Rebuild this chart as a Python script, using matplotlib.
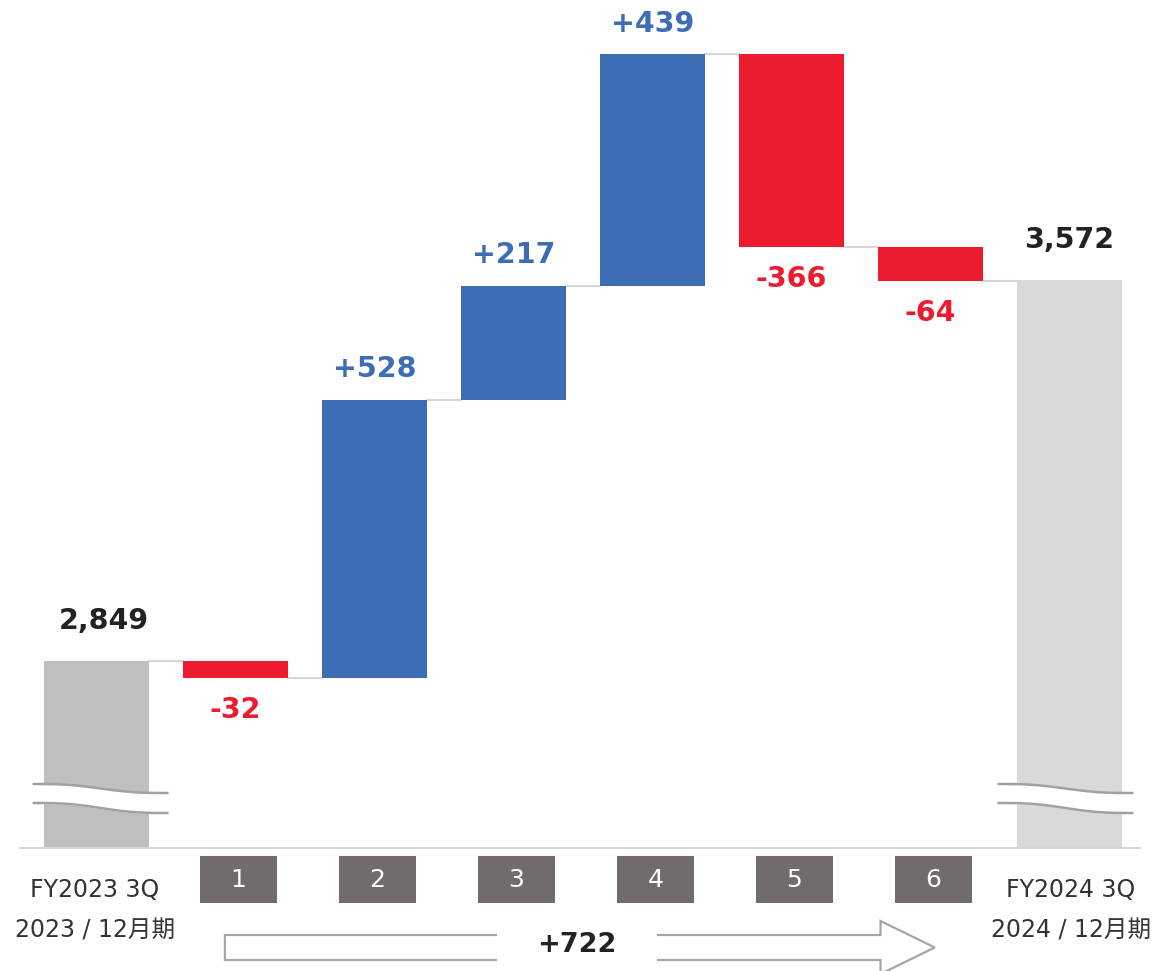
import numpy as np
import matplotlib.pyplot as plt
from matplotlib import transforms
from matplotlib.patches import Polygon, Rectangle

# data
start_label = "FY2023 3Q\n2023 / 12月期"
end_label = "FY2024 3Q\n2024 / 12月期"
step_labels = ["1", "2", "3", "4", "5", "6"]
start_value = 2849
changes = [-32, 528, 217, 439, -366, -64]
end_value = 3572
total_change = 722

BLUE = "#3d6db5"
RED = "#ed1b2f"
START_GRAY = "#bfbfbf"
END_GRAY = "#d9d9d9"
LINE_GRAY = "#d6d6d6"
BOX_GRAY = "#716b6b"
W, H = 1153, 971
y_floor = 2495  # broken axis starts here

plt.rcParams['font.family'] = ['DejaVu Sans', 'Noto Sans CJK JP']

fig = plt.figure(figsize=(W / 100, H / 100), dpi=100)
ax = fig.add_axes([0, 1 - 848 / H, 1, 848 / H])
ax.set_xlim(-0.694, 7.60)
ax.set_ylim(y_floor, 4104)
ax.axis("off")

n = len(changes)
x = np.arange(n + 2)
width = 0.755
run = start_value + np.cumsum(changes)
prev = np.concatenate([[start_value], run[:-1]])

# totals
ax.bar(x[0], start_value - y_floor, bottom=y_floor, width=width, color=START_GRAY, zorder=2)
ax.bar(x[-1], end_value - y_floor, bottom=y_floor, width=width, color=END_GRAY, zorder=2)

# steps
for i, d in enumerate(changes):
    lo = min(prev[i], run[i])
    col = BLUE if d > 0 else RED
    ax.bar(x[i + 1], abs(d), bottom=lo, width=width, color=col, zorder=2)
    if d > 0:
        ax.annotate(f"+{d}", (x[i + 1], run[i]), xytext=(0, 22), textcoords="offset points",
                    ha="center", va="center", fontsize=20.5, fontweight="bold", color=BLUE)
    else:
        ax.annotate(f"{d}", (x[i + 1], run[i]), xytext=(0, -23), textcoords="offset points",
                    ha="center", va="center", fontsize=20.5, fontweight="bold", color=RED)

for xi, v in [(x[0] + 0.05, start_value), (x[-1], end_value)]:
    ax.annotate(f"{v:,}", (xi, v), xytext=(0, 29), textcoords="offset points",
                ha="center", va="center", fontsize=20.5, fontweight="bold", color="#222222")

# connectors
levels = np.concatenate([[start_value], run])
for i in range(n + 1):
    ax.plot([x[i] + width / 2, x[i + 1] - width / 2], [levels[i], levels[i]],
            color=LINE_GRAY, lw=1.5, zorder=1)

# baseline
ax.plot([-0.55, 7.51], [y_floor, y_floor], color=LINE_GRAY, lw=1.5, zorder=3, clip_on=False)

# break marks (x in data, y in axes fraction)
bt = transforms.blended_transform_factory(ax.transData, ax.transAxes)
t = np.linspace(0, 1, 100)
step = t - np.sin(2 * np.pi * t) / (2 * np.pi)
for xc, (l, r) in [(x[0], (-0.45, 0.51)), (x[-1], (-0.51, 0.45))]:
    xs = xc + l + (r - l) * t
    top = (848 - 784 - 9 * step) / 848
    bot = (848 - 803 - 10 * step) / 848
    ax.fill_between(xs, bot, top, color="white", transform=bt, zorder=4)
    ax.plot(xs, top, color="#a0a0a8", lw=1.8, transform=bt, zorder=5)
    ax.plot(xs, bot, color="#a0a0a8", lw=1.8, transform=bt, zorder=5)

# below-axis items: x in data, y in figure pixels from the top
ft = transforms.blended_transform_factory(ax.transData, fig.transFigure)
def fy(px):
    return 1 - px / H

bw = 77 / 139
for i, lab in enumerate(step_labels):
    xc = x[i + 1] + 0.02
    ax.add_patch(Rectangle((xc - bw / 2, fy(903)), bw, 47 / H, transform=ft,
                           facecolor=BOX_GRAY, edgecolor="none", clip_on=False))
    ax.text(xc, fy(880), lab, transform=ft, ha="center", va="center", color="white",
            fontsize=18, family=["Liberation Sans Narrow", "DejaVu Sans"])

for xc, lab in [(x[0] - 0.01, start_label), (x[-1] + 0.01, end_label)]:
    l1, l2 = lab.split("\n")
    ax.text(xc, fy(890), l1, transform=ft, ha="center", va="center", fontsize=17,
            color="#333333")
    ax.text(xc, fy(930), l2, transform=ft, ha="center", va="center", fontsize=17,
            color="#333333")

# total change arrow
ax0, ax1, head0 = 0.924, 6.03, 5.64
arrow = [(ax0, fy(935)), (head0, fy(935)), (head0, fy(921)), (ax1, fy(947.5)),
         (head0, fy(974)), (head0, fy(960)), (ax0, fy(960))]
ax.add_patch(Polygon(arrow, closed=True, transform=ft, facecolor="white",
                     edgecolor="#a6a6a6", lw=1.6, clip_on=False))
gap0, gap1 = (497 - 96.5) / 139, (657 - 96.5) / 139
ax.add_patch(Rectangle((gap0, fy(966)), gap1 - gap0, 38 / H, transform=ft,
                       facecolor="white", edgecolor="none", clip_on=False, zorder=3))
ax.text((gap0 + gap1) / 2, fy(945), f"+{total_change}", transform=ft, ha="center", va="center",
        fontsize=19.5, fontweight="bold", color="#222222", zorder=4)

fig.savefig("out.png", dpi=100)
